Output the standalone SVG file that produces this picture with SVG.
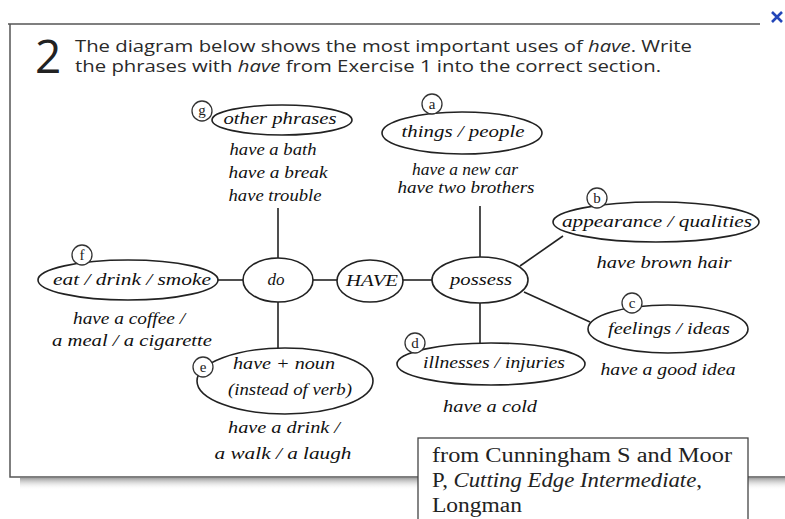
<svg xmlns="http://www.w3.org/2000/svg" width="785" height="519" viewBox="0 0 785 519">
<style>
.frame{stroke:#555;stroke-width:1.5;fill:none}
.el{fill:#fff;stroke:#222;stroke-width:1.6}
.badge{fill:#fff;stroke:#333;stroke-width:1.3}
.badge-t{font-family:"Liberation Serif",serif;font-size:15px;fill:#222;text-anchor:middle}
.lbl{font-family:"Liberation Serif",serif;font-style:italic;font-size:17px;fill:#111;text-anchor:middle}
.ex{font-family:"Liberation Serif",serif;font-style:italic;font-size:17px;fill:#111;text-anchor:middle}
.hdr{font-family:"Open Sans","DejaVu Sans",sans-serif;font-size:16px;fill:#2a2a2a}
.cite{font-family:"Liberation Serif",serif;font-size:20px;fill:#222}
.conn line{stroke:#222;stroke-width:1.6}
</style>
<defs>
<linearGradient id="shadow" x1="0" y1="0" x2="0" y2="1">
<stop offset="0" stop-color="#888" stop-opacity="0.8"/>
<stop offset="1" stop-color="#fff" stop-opacity="0"/>
</linearGradient>
</defs>
<rect width="785" height="519" fill="#fff"/>
<!-- frame -->
<rect x="20" y="478" width="400" height="12" fill="url(#shadow)"/>
<rect x="745" y="478" width="40" height="12" fill="url(#shadow)"/>
<path class="frame" d="M8 24 H760 M10 24 V477 H418 M748 477 H785"/>
<path d="M772 12 L782 22 M782 12 L772 22" stroke="#2346b8" stroke-width="2.6" fill="none"/>
<!-- header -->
<text x="35" y="73" font-family="'Open Sans','DejaVu Sans',sans-serif" font-size="46" fill="#222">2</text>
<text class="hdr" x="75" y="52" textLength="617" lengthAdjust="spacingAndGlyphs">The diagram below shows the most important uses of <tspan font-style="italic">have</tspan>. Write</text>
<text class="hdr" x="75" y="72" textLength="586" lengthAdjust="spacingAndGlyphs">the phrases with <tspan font-style="italic">have</tspan> from Exercise 1 into the correct section.</text>
<!-- connectors -->
<g id="connectors" class="conn">
<line x1="278" y1="208" x2="278" y2="258"/>
<line x1="218" y1="280" x2="243" y2="280"/>
<line x1="313" y1="280" x2="337" y2="280"/>
<line x1="403" y1="280" x2="432" y2="280"/>
<line x1="278" y1="302" x2="278" y2="348"/>
<line x1="480" y1="206" x2="480" y2="257"/>
<line x1="480" y1="303" x2="480" y2="343"/>
<line x1="520" y1="266" x2="563" y2="236"/>
<line x1="524" y1="292" x2="590" y2="322"/>
</g>
<!-- nodes -->
<g id="node-do">
<ellipse class="el" cx="278" cy="280" rx="35" ry="22"/>
<text class="lbl" x="276" y="285">do</text>
</g>
<g id="node-have">
<ellipse class="el" cx="370" cy="281" rx="33" ry="21"/>
<text class="lbl" x="372" y="286" textLength="52" lengthAdjust="spacingAndGlyphs">HAVE</text>
</g>
<g id="node-possess">
<ellipse class="el" cx="480" cy="280" rx="48" ry="23"/>
<text class="lbl" x="481" y="285" textLength="62" lengthAdjust="spacingAndGlyphs">possess</text>
</g>
<g id="node-g">
<ellipse class="el" cx="282" cy="120" rx="70" ry="15"/>
<circle class="badge" cx="202" cy="111" r="10"/>
<text class="badge-t" x="202" y="115">g</text>
<text class="lbl" x="280" y="124" textLength="113" lengthAdjust="spacingAndGlyphs">other phrases</text>
<text class="ex" x="273" y="155" textLength="87" lengthAdjust="spacingAndGlyphs">have a bath</text>
<text class="ex" x="278" y="178" textLength="99" lengthAdjust="spacingAndGlyphs">have a break</text>
<text class="ex" x="275" y="201" textLength="93" lengthAdjust="spacingAndGlyphs">have trouble</text>
</g>
<g id="node-a">
<ellipse class="el" cx="462" cy="133" rx="80" ry="21"/>
<circle class="badge" cx="432" cy="104" r="10"/>
<text class="badge-t" x="432" y="109">a</text>
<text class="lbl" x="463" y="137" textLength="123" lengthAdjust="spacingAndGlyphs">things / people</text>
<text class="ex" x="465" y="175" textLength="106" lengthAdjust="spacingAndGlyphs">have a new car</text>
<text class="ex" x="466" y="193" textLength="137" lengthAdjust="spacingAndGlyphs">have two brothers</text>
</g>
<g id="node-b">
<ellipse class="el" cx="656" cy="222" rx="103" ry="20"/>
<circle class="badge" cx="597" cy="198" r="10"/>
<text class="badge-t" x="597" y="203">b</text>
<text class="lbl" x="657" y="227" textLength="190" lengthAdjust="spacingAndGlyphs">appearance / qualities</text>
<text class="ex" x="664" y="268" textLength="135" lengthAdjust="spacingAndGlyphs">have brown hair</text>
</g>
<g id="node-c">
<ellipse class="el" cx="668" cy="329" rx="80" ry="24"/>
<circle class="badge" cx="632" cy="303" r="10"/>
<text class="badge-t" x="632" y="308">c</text>
<text class="lbl" x="669" y="334" textLength="122" lengthAdjust="spacingAndGlyphs">feelings / ideas</text>
<text class="ex" x="668" y="375" textLength="135" lengthAdjust="spacingAndGlyphs">have a good idea</text>
</g>
<g id="node-d">
<ellipse class="el" cx="491" cy="364" rx="94" ry="21"/>
<circle class="badge" cx="415" cy="343" r="10"/>
<text class="badge-t" x="415" y="348">d</text>
<text class="lbl" x="494" y="368" textLength="142" lengthAdjust="spacingAndGlyphs">illnesses / injuries</text>
<text class="ex" x="490" y="412" textLength="94" lengthAdjust="spacingAndGlyphs">have a cold</text>
</g>
<g id="node-e">
<ellipse class="el" cx="285" cy="381" rx="88" ry="33"/>
<circle class="badge" cx="203" cy="367" r="10"/>
<text class="badge-t" x="203" y="372">e</text>
<text class="lbl" x="284" y="369" textLength="102" lengthAdjust="spacingAndGlyphs">have + noun</text>
<text class="lbl" x="290" y="395" textLength="124" lengthAdjust="spacingAndGlyphs">(instead of verb)</text>
<text class="ex" x="284" y="433" textLength="112" lengthAdjust="spacingAndGlyphs">have a drink /</text>
<text class="ex" x="283" y="459" textLength="137" lengthAdjust="spacingAndGlyphs">a walk / a laugh</text>
</g>
<g id="node-f">
<ellipse class="el" cx="128" cy="280" rx="90" ry="20"/>
<circle class="badge" cx="82" cy="255" r="10"/>
<text class="badge-t" x="82" y="260">f</text>
<text class="lbl" x="132" y="285" textLength="158" lengthAdjust="spacingAndGlyphs">eat / drink / smoke</text>
<text class="ex" x="129" y="324" textLength="112" lengthAdjust="spacingAndGlyphs">have a coffee /</text>
<text class="ex" x="132" y="346" textLength="160" lengthAdjust="spacingAndGlyphs">a meal / a cigarette</text>
</g>
<!-- citation -->
<g id="citation">
<rect x="418" y="438" width="330" height="90" fill="#fff" stroke="#444" stroke-width="1.3"/>
<text class="cite" x="432" y="462" textLength="300" lengthAdjust="spacingAndGlyphs">from Cunningham S and Moor</text>
<text class="cite" x="432" y="487" textLength="270" lengthAdjust="spacingAndGlyphs">P, <tspan font-style="italic">Cutting Edge Intermediate</tspan>,</text>
<text class="cite" x="432" y="512" textLength="90" lengthAdjust="spacingAndGlyphs">Longman</text>
</g>
</svg>
